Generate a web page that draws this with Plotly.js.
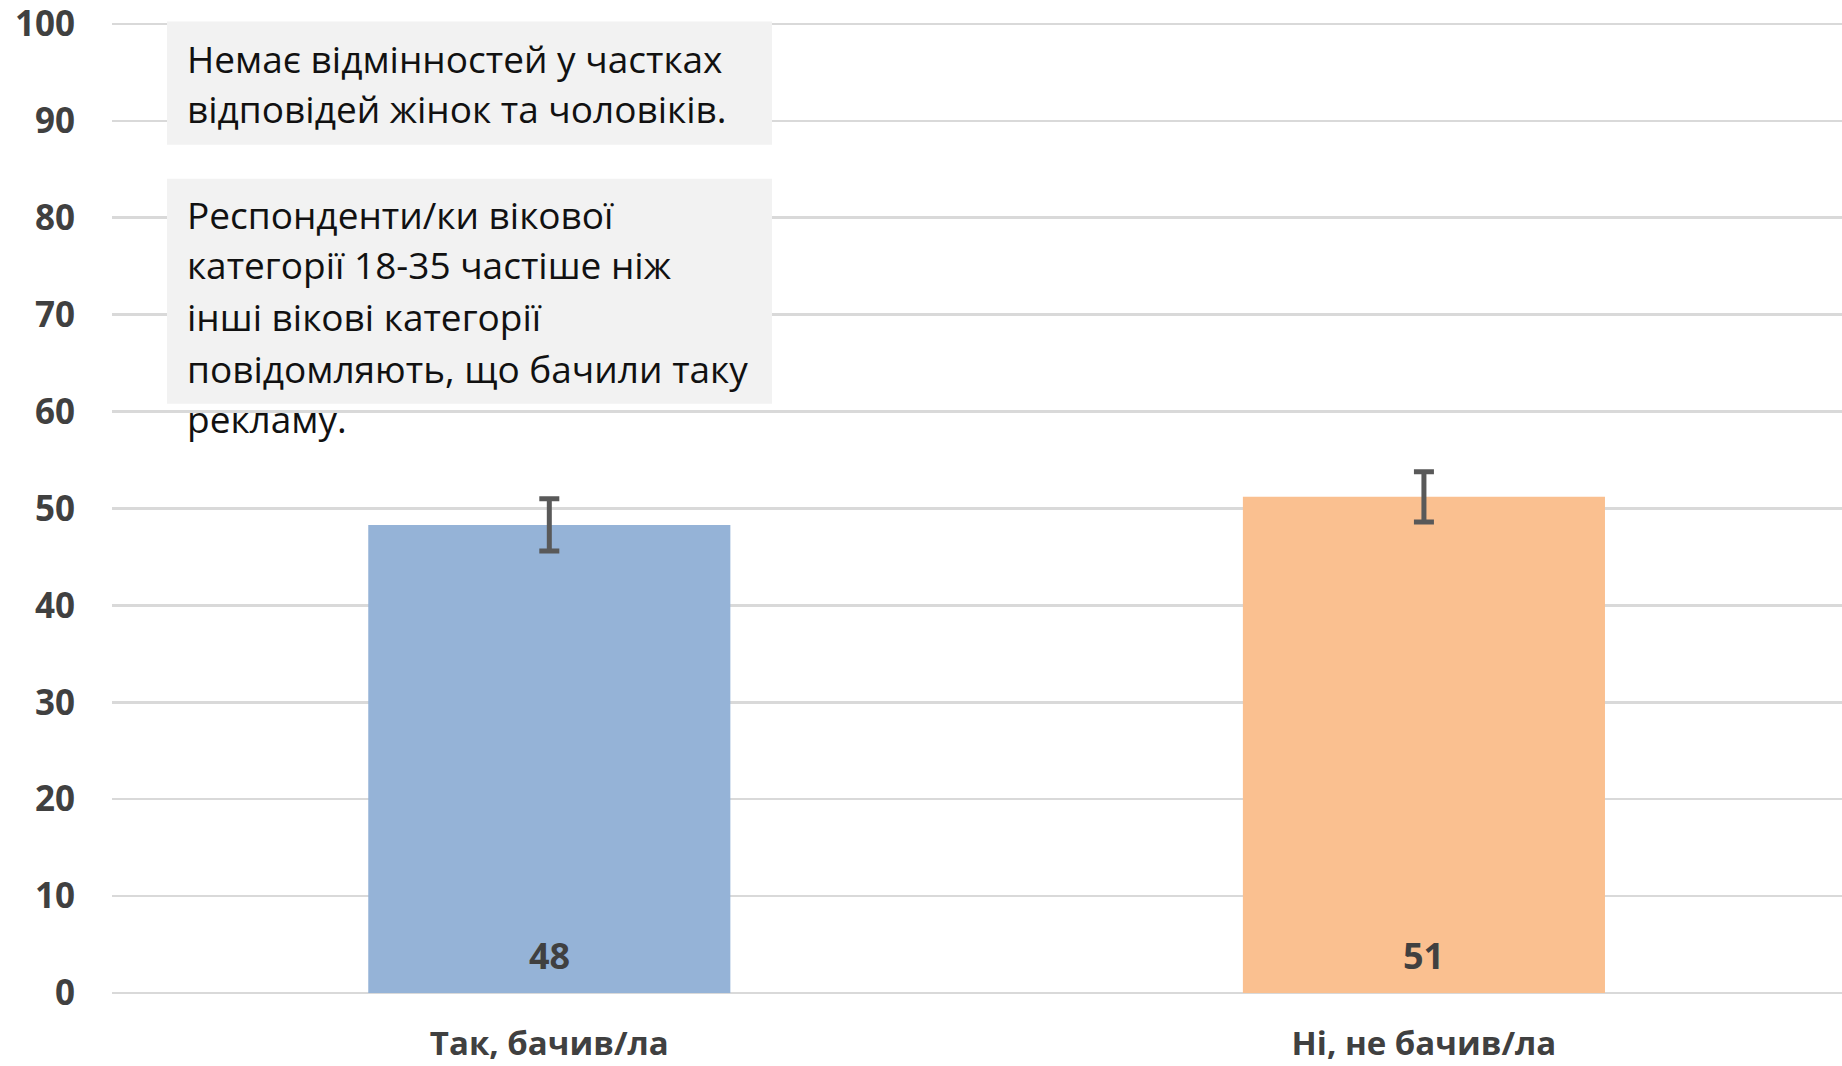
<!DOCTYPE html>
<html>
<head>
<meta charset="utf-8">
<script src="https://cdn.plot.ly/plotly-3.0.1.min.js"></script>
<style>html,body{margin:0;padding:0;background:#fff;}#chart{width:1842px;height:1066px;}</style>
</head>
<body>
<div id="chart"></div>
<script>
const categories = ["Так, бачив/ла", "Ні, не бачив/ла"];
const values = [48.3, 51.2];
const valueLabels = ["48", "51"];
const errors = [2.7, 2.6];
const barColors = ["#95b3d7", "#fac090"];
const yTicks = [0, 10, 20, 30, 40, 50, 60, 70, 80, 90, 100];

const note1Lines = ["Немає відмінностей у частках", "відповідей жінок та чоловіків."];
const note2Lines = ["Респонденти/ки вікової", "категорії 18-35 частіше ніж", "інші вікові категорії", "повідомляють, що бачили таку", "рекламу."];

// layout geometry (pixels)
const W = 1842, H = 1066;
const yTop = 100.3;
const pxPerUnit = 9.687;
const mL = 112, mR = 0, mB = 73;
const plotH = yTop * pxPerUnit;
const mT = H - mB - plotH;
const plotW = W - mL - mR;
const py = (pix) => (H - mB - pix) / plotH;   // pixel y -> paper y
const px = (pix) => (pix - mL) / plotW;        // pixel x -> paper x

const note1Y = [59, 109];
const note2Y = [215, 265, 317, 369, 419];
const textX = px(185);
const noteFont = {family: 'Open Sans', size: 37, color: '#111111'};

const annotations = [];
note1Lines.forEach((t, i) => annotations.push({
  xref: 'paper', yref: 'paper', x: textX, y: py(note1Y[i]), xanchor: 'left', yanchor: 'middle',
  text: t, showarrow: false, font: noteFont
}));
note2Lines.forEach((t, i) => annotations.push({
  xref: 'paper', yref: 'paper', x: textX, y: py(note2Y[i]), xanchor: 'left', yanchor: 'middle',
  text: t, showarrow: false, font: noteFont
}));
categories.forEach((c, i) => annotations.push({
  x: c, y: 0, xref: 'x', yref: 'y', yanchor: 'middle', yshift: 38,
  text: valueLabels[i], showarrow: false,
  font: {family: 'Open Sans', size: 36, color: '#404040', weight: 700}
}));

const shapes = [
  {type: 'rect', xref: 'paper', yref: 'paper', x0: px(167), x1: px(772), y0: py(145), y1: py(22),
   fillcolor: '#f2f2f2', line: {width: 0}, layer: 'above'},
  {type: 'rect', xref: 'paper', yref: 'paper', x0: px(167), x1: px(772), y0: py(404), y1: py(179),
   fillcolor: '#f2f2f2', line: {width: 0}, layer: 'above'}
];

const trace = {
  type: 'bar',
  x: categories,
  y: values,
  width: 0.414,
  marker: {color: barColors, line: {width: 0}},
  error_y: {type: 'data', array: errors, visible: true, color: '#595959', thickness: 5, width: 10},
  hoverinfo: 'skip'
};

const layout = {
  width: W, height: H,
  margin: {l: mL, r: mR, t: mT, b: mB, pad: 0},
  paper_bgcolor: '#ffffff', plot_bgcolor: '#ffffff',
  showlegend: false,
  xaxis: {
    range: [-0.5, 1.478],
    showgrid: false, zeroline: false, showline: false, ticks: '',
    tickfont: {family: 'Open Sans', size: 33, color: '#404040', weight: 700},
    ticklabelstandoff: 28,
    ticklabeloverflow: 'allow'
  },
  yaxis: {
    range: [0, yTop],
    tickvals: yTicks,
    ticktext: yTicks.map(String),
    showgrid: true, gridcolor: '#d9d9d9', gridwidth: 2.5,
    zeroline: true, zerolinecolor: '#d9d9d9', zerolinewidth: 2.5,
    showline: false, ticks: '',
    tickfont: {family: 'Open Sans', size: 35, color: '#404040', weight: 700},
    ticklabelstandoff: 36,
    ticklabeloverflow: 'allow'
  },
  annotations: annotations,
  shapes: shapes
};

Plotly.newPlot('chart', [trace], layout, {displayModeBar: false, staticPlot: true});
</script>
</body>
</html>
